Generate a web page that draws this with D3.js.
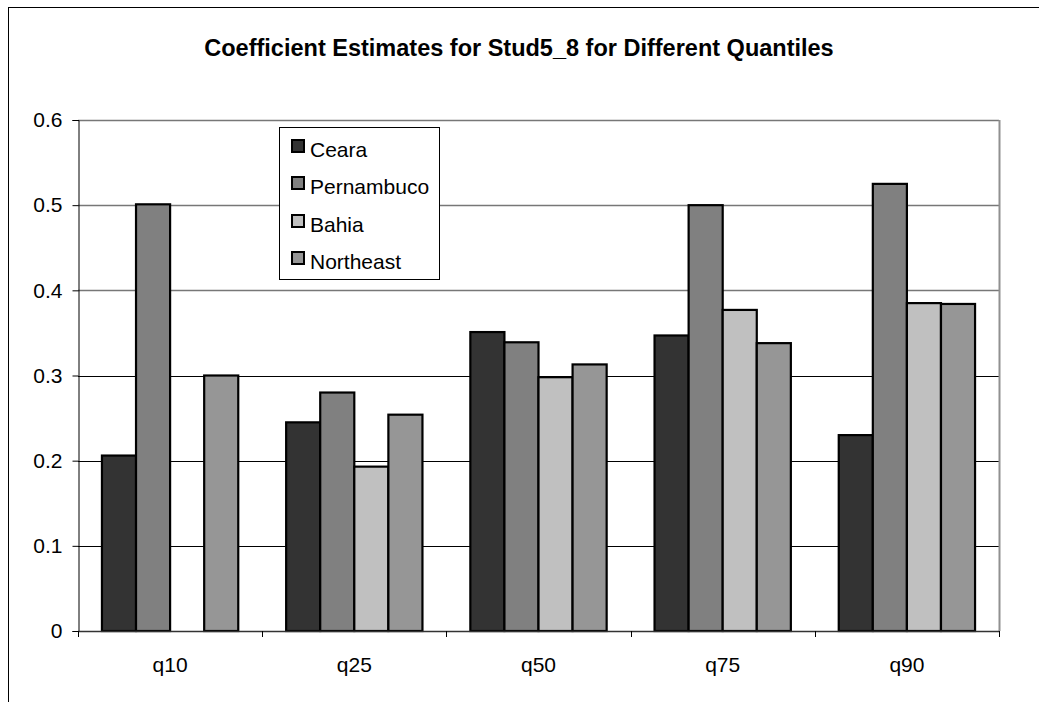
<!DOCTYPE html>
<html><head><meta charset="utf-8">
<script src="https://cdn.jsdelivr.net/npm/d3@7"></script>
<style>
body{margin:0;background:#fff;}
text{font-family:Arial,"Liberation Sans",sans-serif;}
</style></head>
<body><svg id="c" width="1039" height="702"></svg>
<script>
const categories = ["q10","q25","q50","q75","q90"];
const seriesNames = ["Ceara","Pernambuco","Bahia","Northeast"];
const ceara      = [0.206, 0.245, 0.351, 0.347, 0.230];
const pernambuco = [0.501, 0.280, 0.339, 0.500, 0.525];
const bahia      = [null,  0.193, 0.298, 0.377, 0.385];
const northeast  = [0.300, 0.254, 0.313, 0.338, 0.384];
const yTicks = [0, 0.1, 0.2, 0.3, 0.4, 0.5, 0.6];
const colors = ["#333333","#808080","#c0c0c0","#969696"];
const title = "Coefficient Estimates for Stud5_8 for Different Quantiles";

const seriesVals = [ceara, pernambuco, bahia, northeast];
const svg = d3.select("#c");
const L = 78, R = 999, T = 120, B = 631;
const FF = "Arial,'Liberation Sans',sans-serif";

// outer chart border
svg.append("rect").attr("x",8.5).attr("y",7.5).attr("width",1100).attr("height",800)
  .attr("fill","#fff").attr("stroke","#000").attr("stroke-width",1);

svg.append("text").attr("x",519).attr("y",56).attr("text-anchor","middle")
  .attr("font-weight","bold").attr("font-size",23.5).text(title);

const y = d3.scaleLinear().domain([0,0.6]).range([B,T]);
const x0 = d3.scaleBand().domain(categories).range([L,R]).paddingInner(0.26).paddingOuter(0.13);
const x1 = d3.scaleBand().domain(seriesNames).range([0,x0.bandwidth()]);

// gridlines
svg.append("g").selectAll("line").data(yTicks.filter(d=>d>0)).join("line")
  .attr("x1",L).attr("x2",R).attr("y1",d=>Math.round(y(d))+0.5).attr("y2",d=>Math.round(y(d))+0.5)
  .attr("stroke",d=>d>=0.4?"#777":"#000").attr("stroke-width",d=>d>=0.4?1.5:1);
// plot right border
svg.append("line").attr("x1",R+0.5).attr("x2",R+0.5).attr("y1",T).attr("y2",B)
  .attr("stroke","#909090").attr("stroke-width",2);

// bars
const data = [];
categories.forEach((c,i)=>seriesNames.forEach((s,j)=>{
  if (seriesVals[j][i] != null) data.push({c, s, v: seriesVals[j][i], j});
}));
svg.append("g").selectAll("rect").data(data).join("rect")
  .attr("x",d=>x0(d.c)+x1(d.s)).attr("width",x1.bandwidth())
  .attr("y",d=>y(d.v)).attr("height",d=>y(0)-y(d.v))
  .attr("fill",d=>colors[d.j]).attr("stroke","#000").attr("stroke-width",2.2);

// y axis
const ya = svg.append("g").attr("transform",`translate(${L+0.5},0)`)
  .call(d3.axisLeft(y).tickValues(yTicks).tickFormat(d=>d===0?"0":d3.format(".1f")(d)).tickSize(6).tickPadding(10));
ya.select(".domain").attr("stroke","#000");
ya.selectAll("text").attr("font-size",21).attr("fill","#000").style("font-family",FF);

// x axis
const xa = svg.append("g").attr("transform",`translate(0,${B+0.5})`)
  .call(d3.axisBottom(x0).tickSize(0).tickPadding(26));
xa.select(".domain").attr("stroke","#333").attr("stroke-width",1.5).attr("d",`M${L},0H${R}`);
xa.selectAll("text").attr("font-size",21).attr("fill","#000").style("font-family",FF);
svg.append("g").selectAll("line").data(d3.range(categories.length+1)).join("line")
  .attr("x1",i=>Math.round(L+i*(R-L)/categories.length)+0.5)
  .attr("x2",i=>Math.round(L+i*(R-L)/categories.length)+0.5)
  .attr("y1",B).attr("y2",B+6).attr("stroke","#000");

// legend
const lg = svg.append("g");
lg.append("rect").attr("x",279.5).attr("y",127.5).attr("width",160).attr("height",152)
  .attr("fill","#fff").attr("stroke","#000");
const swTop = [140,177,215,252];
seriesNames.forEach((s,j)=>{
  lg.append("rect").attr("x",292).attr("y",swTop[j]).attr("width",12).attr("height",12)
    .attr("fill",colors[j]).attr("stroke","#000").attr("stroke-width",2);
  lg.append("text").attr("x",310).attr("y",swTop[j]+17).attr("font-size",21).text(s);
});
</script></body></html>
